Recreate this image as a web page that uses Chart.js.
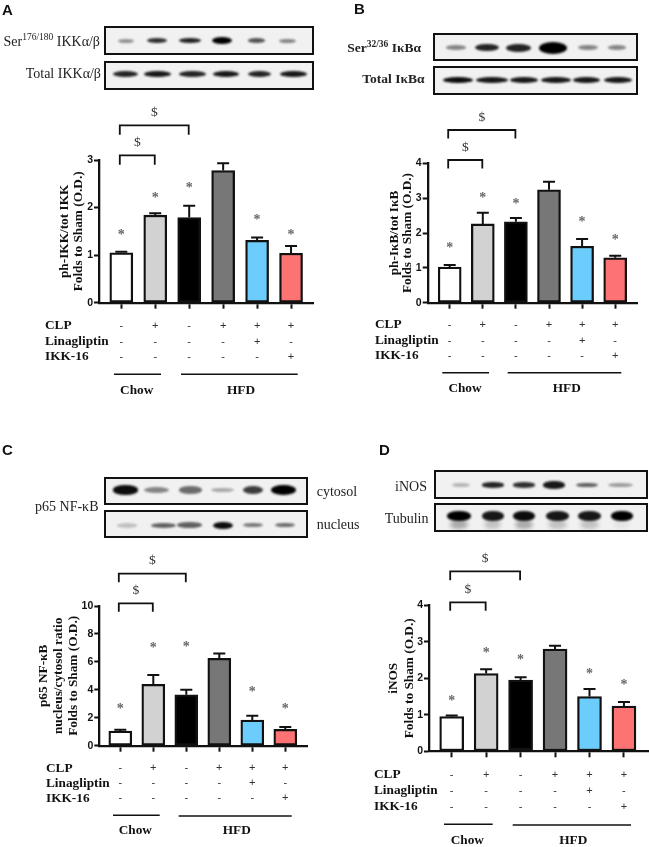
<!DOCTYPE html>
<html>
<head>
<meta charset="utf-8">
<title>IKK / IkB / NF-kB / iNOS</title>
<script src="https://cdn.jsdelivr.net/npm/chart.js@4"></script>
<style>
    html, body { margin: 0; padding: 0; background: #fff; }
    #page { position: relative; width: 649px; height: 847px; overflow: hidden; filter: blur(0.35px); }
    canvas { position: absolute; }
    .letter { position: absolute; font: bold 15px "Liberation Sans", sans-serif; color: #111; line-height: 15px; }
    .blot { position: absolute; box-sizing: border-box; border: 2.2px solid #111; background: #f1f1f1; overflow: hidden; }
    .band { position: absolute; border-radius: 50%; background: #000; filter: blur(1.3px); }
    .lab { position: absolute; font: 14px "Liberation Serif", serif; color: #222; white-space: nowrap; line-height: 16px; }
    .lab.b { font-weight: bold; font-size: 13.5px; }
    .lab sup { font-size: 9.5px; line-height: 0; }
</style>
</head>
<body>
<div id="page"></div>
<script>
// treatment rows, same for all four panels
const clpMarks = ['-', '+', '-', '+', '+', '+'];
const linaMarks = ['-', '-', '-', '-', '+', '-'];
const ikkMarks = ['-', '-', '-', '-', '-', '+'];
const barColors = ['#ffffff', '#d2d2d2', '#000000', '#777777', '#6ccdfd', '#fd7272'];

// bar values, upward error and height of the asterisk (null = no asterisk)
const valuesA = [1.05, 1.84, 1.79, 2.78, 1.31, 1.04];
const errorsA = [0.02, 0.04, 0.25, 0.15, 0.06, 0.15];
const starsA = [1.46, 2.24, 2.44, null, 1.77, 1.46];

const valuesB = [1.02, 2.26, 2.32, 3.24, 1.62, 1.29];
const errorsB = [0.06, 0.32, 0.11, 0.23, 0.21, 0.06];
const starsB = [1.61, 3.04, 2.89, null, 2.35, 1.85];

const valuesC = [1.05, 4.39, 3.65, 6.25, 1.84, 1.17];
const errorsC = [0.10, 0.67, 0.35, 0.35, 0.31, 0.17];
const starsC = [2.74, 7.14, 7.2, null, 3.99, 2.74];

const valuesD = [0.95, 2.13, 1.95, 2.8, 1.5, 1.24];
const errorsD = [0.03, 0.12, 0.08, 0.09, 0.21, 0.11];
const starsD = [1.42, 2.73, 2.54, null, 2.16, 1.87];

// band darkness of the blots, lane by lane
const blotA1 = [0.4, 0.8, 0.85, 1, 0.65, 0.45];
const blotA2 = [0.85, 0.9, 0.85, 0.9, 0.85, 0.9];
const blotB1 = [0.45, 0.85, 0.85, 1, 0.45, 0.45];
const blotB2 = [0.95, 0.9, 0.9, 0.9, 0.9, 0.9];
const blotC1 = [0.95, 0.45, 0.55, 0.3, 0.75, 1];
const blotC2 = [0.2, 0.6, 0.6, 0.95, 0.5, 0.55];
const blotD1 = [0.25, 0.85, 0.8, 0.9, 0.6, 0.35];
const blotD2 = [1, 0.9, 0.95, 0.9, 0.9, 1];

const page = document.getElementById('page');
const SERIF = '"Liberation Serif", serif';
const SANS = '"Liberation Sans", sans-serif';

function addLabel(html, x, y, opts) {
    const el = document.createElement('div');
    el.className = 'lab' + (opts.bold ? ' b' : '');
    el.innerHTML = html;
    el.style.top = (y - 8) + 'px';
    if (opts.right != null) el.style.right = (649 - opts.right) + 'px';
    else el.style.left = x + 'px';
    page.appendChild(el);
}

function addLetter(text, x, y) {
    const el = document.createElement('div');
    el.className = 'letter';
    el.textContent = text;
    el.style.left = x + 'px';
    el.style.top = y + 'px';
    page.appendChild(el);
}

function addBlot(b, darkness) {
    const el = document.createElement('div');
    el.className = 'blot';
    el.style.cssText = `left:${b.x0}px;top:${b.y0}px;width:${b.x1 - b.x0}px;height:${b.y1 - b.y0}px;`;
    darkness.forEach((d, i) => {
        const w = b.widths[i], h = (b.heights ? b.heights[i] : b.h) + 1.2;
        const band = document.createElement('div');
        band.className = 'band';
        band.style.cssText = `left:${b.lanes[i] - w / 2 - b.x0 - 2}px;top:${b.cy - h / 2 - b.y0 - 2}px;width:${w}px;height:${h}px;opacity:${d};`;
        el.appendChild(band);
        if (b.smear) {
            const s = document.createElement('div');
            s.className = 'band';
            s.style.cssText = `left:${b.lanes[i] - w * 0.4 - b.x0 - 2}px;top:${b.cy + 2 - b.y0}px;width:${w * 0.8}px;height:9px;opacity:${b.smear[i]};filter:blur(2px);`;
            el.appendChild(s);
        }
    });
    page.appendChild(el);
}

function makePanel(p) {
    const canvas = document.createElement('canvas');
    canvas.width = p.box.w;
    canvas.height = p.box.h;
    canvas.style.left = p.box.x + 'px';
    canvas.style.top = p.box.y + 'px';
    canvas.style.width = p.box.w + 'px';
    canvas.style.height = p.box.h + 'px';
    page.appendChild(canvas);

    const extras = {
        id: 'panelExtras',
        afterDatasetsDraw(chart) {
            const ctx = chart.ctx;
            const xs = chart.scales.x, ys = chart.scales.y;
            const px = i => xs.getPixelForValue(i) + p.box.x;
            const py = v => ys.getPixelForValue(v) + p.box.y;
            ctx.save();
            ctx.translate(-p.box.x, -p.box.y);

            // error bars
            ctx.strokeStyle = '#111';
            ctx.lineWidth = 2;
            p.values.forEach((v, i) => {
                const top = py(v + p.errors[i]);
                ctx.beginPath();
                ctx.moveTo(px(i), py(v));
                ctx.lineTo(px(i), top);
                ctx.moveTo(px(i) - 6, top);
                ctx.lineTo(px(i) + 6, top);
                ctx.stroke();
            });

            // asterisks
            ctx.fillStyle = '#666';
            ctx.font = 'bold 14px ' + SERIF;
            ctx.textAlign = 'center';
            ctx.textBaseline = 'middle';
            p.stars.forEach((s, i) => {
                if (s != null) ctx.fillText('*', px(i), py(s) + 2);
            });

            // brackets and $
            ctx.lineWidth = 1.8;
            ctx.strokeStyle = '#111';
            p.brackets.forEach(b => {
                const l = px(0) - 1.5, r = px(b.to) - 0.5;
                ctx.beginPath();
                ctx.moveTo(l, b.y + b.leg);
                ctx.lineTo(l, b.y);
                ctx.lineTo(r, b.y);
                ctx.lineTo(r, b.y + b.leg);
                ctx.stroke();
                ctx.fillStyle = '#333';
                ctx.font = '13.5px ' + SERIF;
                ctx.fillText('$', (l + r) / 2, b.y - 13);
            });

            // treatment table
            const rows = [['CLP', clpMarks], ['Linagliptin', linaMarks], ['IKK-16', ikkMarks]];
            rows.forEach(([name, marks], r) => {
                ctx.textAlign = 'left';
                ctx.fillStyle = '#111';
                ctx.font = 'bold 13.3px ' + SERIF;
                ctx.fillText(name, p.table.x, p.table.rows[r]);
                ctx.textAlign = 'center';
                ctx.fillStyle = '#333';
                ctx.font = '11px ' + SANS;
                marks.forEach((m, i) => ctx.fillText(m, px(i), p.table.rows[r]));
            });

            // group lines
            ctx.lineWidth = 1.6;
            ctx.strokeStyle = '#111';
            p.groups.forEach(g => {
                ctx.beginPath();
                ctx.moveTo(g.x0, g.y);
                ctx.lineTo(g.x1, g.y);
                ctx.stroke();
                ctx.textAlign = 'center';
                ctx.fillStyle = '#111';
                ctx.font = 'bold 13.3px ' + SERIF;
                ctx.fillText(g.name, g.cx, g.ty);
            });
            ctx.restore();
        }
    };

    const xMin = -(p.firstBar - p.axisX) / p.spacing;
    const xMax = xMin + (p.right - p.axisX) / p.spacing;
    const lh = p.titleGap;

    return new Chart(canvas, {
        type: 'bar',
        data: {
            datasets: [{
                data: p.values.map((v, i) => ({ x: i, y: v })),
                backgroundColor: barColors,
                borderColor: '#111',
                borderWidth: 2.3,
                borderSkipped: false,
                barThickness: p.barWidth
            }]
        },
        options: {
            responsive: false,
            animation: false,
            devicePixelRatio: 1,
            layout: {
                padding: {
                    left: p.titleX - lh / 2 - p.box.x,
                    top: p.top - p.box.y,
                    right: p.box.x + p.box.w - p.right,
                    bottom: p.box.y + p.box.h - p.bottom
                }
            },
            plugins: { legend: { display: false }, tooltip: { enabled: false } },
            scales: {
                x: {
                    type: 'linear',
                    offset: false,
                    min: xMin,
                    max: xMax,
                    afterFit: s => { s.height = 0; },
                    afterBuildTicks: s => { s.ticks = clpMarks.map((m, i) => ({ value: i })); },
                    border: { display: true, color: '#111', width: 2.3 },
                    grid: { offset: false, drawOnChartArea: false, drawTicks: true, tickLength: 6, tickWidth: 2, tickColor: '#111' },
                    ticks: { display: false }
                },
                y: {
                    min: 0,
                    max: p.yMax,
                    afterFit: s => { s.width = p.axisX - p.titleX + lh / 2; },
                    border: { display: true, color: '#111', width: 2.3 },
                    grid: { drawOnChartArea: false, drawTicks: true, tickLength: 5, tickWidth: 2, tickColor: '#111' },
                    ticks: {
                        stepSize: p.yStep,
                        color: '#111',
                        padding: 1,
                        font: { family: SANS, size: 10.5, weight: 'bold' }
                    },
                    title: {
                        display: true,
                        text: p.title,
                        color: '#111',
                        padding: 0,
                        font: { family: SERIF, size: 13.3, weight: 'bold', lineHeight: lh / 13.3 }
                    }
                }
            }
        },
        plugins: [extras]
    });
}

// panel letters
addLetter('A', 2, 2);
addLetter('B', 354, 1);
addLetter('C', 2, 442);
addLetter('D', 379, 442);

// blots
const w6 = (a, b, c, d, e, f) => [a / 3, b / 3, c / 3, d / 3, e / 3, f / 3];
const lanesA = [126, 156.7, 190, 222, 256.7, 287.3];
addBlot({ x0: 104, x1: 314, y0: 26, y1: 55, cy: 40.7, h: 4, lanes: lanesA, widths: w6(50, 60, 65, 62, 50, 50), heights: [3, 4, 4, 6, 3.5, 3] }, blotA1);
addBlot({ x0: 104, x1: 314, y0: 61, y1: 90, cy: 74, h: 5, lanes: [125, 157.3, 192.3, 226, 259.3, 293.3], widths: w6(75, 80, 80, 80, 70, 80) }, blotA2);
const lanesB = [455.7, 487, 518.3, 552.7, 588.3, 617];
addBlot({ x0: 433, x1: 638, y0: 32.7, y1: 61, cy: 47.7, h: 6, lanes: lanesB, widths: w6(60, 70, 75, 85, 60, 55), heights: [3.5, 6, 7, 11, 4, 3.5] }, blotB1);
addBlot({ x0: 433, x1: 638, y0: 66, y1: 94.7, cy: 80, h: 5, lanes: [457.7, 491.7, 524, 556, 586.7, 617.7], widths: w6(90, 95, 85, 90, 80, 85) }, blotB2);
addBlot({ x0: 103.7, x1: 308, y0: 477, y1: 505, cy: 490, h: 6, lanes: [126, 156.7, 190.7, 222.3, 253.3, 283.3], widths: w6(75, 75, 70, 70, 60, 75), heights: [8, 5, 6, 3, 7, 9] }, blotC1);
addBlot({ x0: 103.7, x1: 308, y0: 510.3, y1: 538.3, cy: 525.3, h: 4, lanes: [126.7, 163.3, 190, 222.7, 252.7, 285.3], widths: w6(60, 75, 75, 60, 60, 60), heights: [3.5, 4, 4.5, 6, 3, 3] }, blotC2);
addBlot({ x0: 434, x1: 647.5, y0: 470, y1: 498.7, cy: 485, h: 4, lanes: [460.7, 492.7, 524, 554.3, 586.7, 620], widths: w6(55, 65, 65, 65, 65, 75), heights: [3, 4, 4, 6, 3.5, 3] }, blotD1);
addBlot({ x0: 434, x1: 647.5, y0: 503.3, y1: 532, cy: 516, h: 8, lanes: [459, 492.7, 524, 557.3, 589.3, 621.7], widths: w6(70, 65, 65, 70, 70, 65), smear: [0.3, 0.2, 0.3, 0.2, 0.2, 0.05] }, blotD2);

// blot labels
addLabel('Ser<sup>176/180</sup> IKKα/β', 0, 41.7, { right: 100 });
addLabel('Total IKKα/β', 0, 74, { right: 101 });
addLabel('Ser<sup>32/36</sup> IκBα', 0, 47.7, { right: 421, bold: true });
addLabel('Total IκBα', 0, 79.3, { right: 424.5, bold: true });
addLabel('p65 NF-κB', 0, 506.7, { right: 98.5 });
addLabel('cytosol', 316.7, 491.7, {});
addLabel('nucleus', 316.7, 525, {});
addLabel('iNOS', 0, 486.7, { right: 427 });
addLabel('Tubulin', 0, 518.7, { right: 428.5 });

makePanel({
    box: { x: 0, y: 95, w: 325, h: 325 },
    values: valuesA, errors: errorsA, stars: starsA,
    yMax: 3, yStep: 1,
    axisX: 99, right: 313, top: 160, bottom: 302.7,
    firstBar: 121.3, spacing: 33.95, barWidth: 23,
    titleX: 65, titleGap: 13.4,
    title: ['ph-IKK/tot IKK', 'Folds to Sham (O.D.)'],
    brackets: [{ to: 1, y: 155.3, leg: 9.5 }, { to: 2, y: 125.3, leg: 9.5 }],
    table: { x: 45, rows: [325.7, 341.7, 357] },
    groups: [
        { name: 'Chow', x0: 114, x1: 161, y: 374.3, cx: 136.7, ty: 390.7 },
        { name: 'HFD', x0: 181, x1: 297.7, y: 374.3, cx: 241, ty: 390.7 }
    ]
});

makePanel({
    box: { x: 325, y: 95, w: 324, h: 325 },
    values: valuesB, errors: errorsB, stars: starsB,
    yMax: 4, yStep: 1,
    axisX: 427.7, right: 637, top: 163.3, bottom: 302.7,
    firstBar: 449.7, spacing: 33.1, barWidth: 23,
    titleX: 394.3, titleGap: 13.2,
    title: ['ph-IκB/tot IκB', 'Folds to Sham (O.D.)'],
    brackets: [{ to: 1, y: 160, leg: 8.5 }, { to: 2, y: 130, leg: 8.5 }],
    table: { x: 375, rows: [325, 340.7, 355.7] },
    groups: [
        { name: 'Chow', x0: 442.3, x1: 489, y: 372.7, cx: 465, ty: 388.7 },
        { name: 'HFD', x0: 507.7, x1: 621.3, y: 372.7, cx: 566.7, ty: 388.7 }
    ]
});

makePanel({
    box: { x: 0, y: 540, w: 325, h: 307 },
    values: valuesC, errors: errorsC, stars: starsC,
    yMax: 10, yStep: 2,
    axisX: 99.3, right: 307, top: 606, bottom: 745.7,
    firstBar: 120.3, spacing: 33, barWidth: 23,
    titleX: 43.7, titleGap: 14.7,
    title: ['p65 NF-κB', 'nucleus/cytosol ratio', 'Folds to Sham (O.D.)'],
    brackets: [{ to: 1, y: 603.3, leg: 8.5 }, { to: 2, y: 573.7, leg: 8.5 }],
    table: { x: 46, rows: [768.3, 783.3, 798.3] },
    groups: [
        { name: 'Chow', x0: 113, x1: 159.7, y: 815.3, cx: 135.3, ty: 830.7 },
        { name: 'HFD', x0: 178.7, x1: 291.7, y: 816, cx: 236.7, ty: 830.7 }
    ]
});

makePanel({
    box: { x: 325, y: 540, w: 324, h: 307 },
    values: valuesD, errors: errorsD, stars: starsD,
    yMax: 4, yStep: 1,
    axisX: 429, right: 648, top: 605.3, bottom: 751.3,
    firstBar: 451.7, spacing: 34.45, barWidth: 24,
    titleX: 393.3, titleGap: 16.7,
    title: ['iNOS', 'Folds to Sham (O.D.)'],
    brackets: [{ to: 1, y: 602.3, leg: 8.5 }, { to: 2, y: 571.3, leg: 9 }],
    table: { x: 374, rows: [775, 790.7, 806.7] },
    groups: [
        { name: 'Chow', x0: 444, x1: 492.7, y: 824.3, cx: 467.3, ty: 840.7 },
        { name: 'HFD', x0: 512.7, x1: 631, y: 825, cx: 573.3, ty: 840.7 }
    ]
});
</script>
</body>
</html>
